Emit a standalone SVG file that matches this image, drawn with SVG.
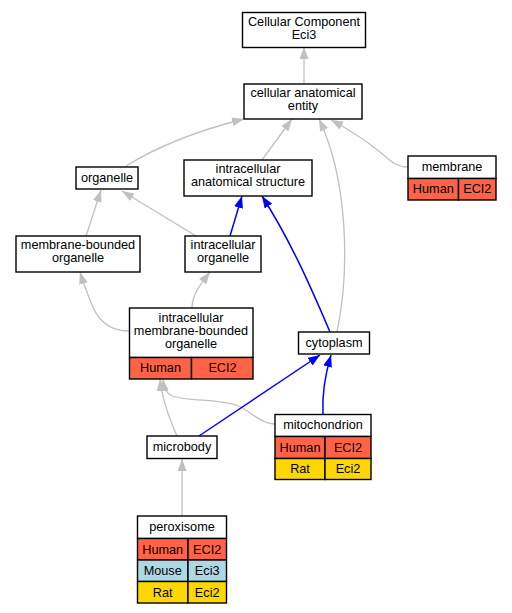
<svg xmlns="http://www.w3.org/2000/svg" width="512" height="613" viewBox="0 0 512 613">
<style>
text{font-family:"Liberation Sans",Arial,sans-serif;font-size:12.7px;fill:#000;text-anchor:middle}
.box{fill:#fff;stroke:#000;stroke-width:1.4}
.cell{stroke:#000;stroke-width:1.4}
.hu{fill:#FF6347}
.mo{fill:#ADD8E6}
.ra{fill:#FFD700}
.g{fill:none;stroke:#C0C0C0;stroke-width:1.3}
.b{fill:none;stroke:#0000FF;stroke-width:1.5}
</style>
<defs>
<marker id="ag" markerUnits="userSpaceOnUse" markerWidth="13" markerHeight="10" refX="12" refY="4.5" orient="auto"><path d="M0,0 L12,4.5 L0,9 z" fill="#C0C0C0"/></marker>
<marker id="ab" markerUnits="userSpaceOnUse" markerWidth="13" markerHeight="10" refX="12" refY="4.5" orient="auto"><path d="M0,0 L12,4.5 L0,9 z" fill="#0000FF"/></marker>
</defs>
<rect width="512" height="613" fill="#fff"/>
<g id="edges">
<path class="g" marker-end="url(#ag)" d="M304,84 L304,47"/>
<path class="g" marker-end="url(#ag)" d="M126,166 C160,145 200,130 244,119"/>
<path class="g" marker-end="url(#ag)" d="M262,160 L292,119"/>
<path class="g" marker-end="url(#ag)" d="M337,332 C350,270 348,180 319,119"/>
<path class="g" marker-end="url(#ag)" d="M408,167 C395,167 390,160 380,152 C365,140 350,130 331,120"/>
<path class="g" marker-end="url(#ag)" d="M86,236 L101,190"/>
<path class="g" marker-end="url(#ag)" d="M196,236 L122,191"/>
<path class="b" marker-end="url(#ab)" d="M230,236 L242,196"/>
<path class="b" marker-end="url(#ab)" d="M330,332 C310,285 290,240 262,196"/>
<path class="g" marker-end="url(#ag)" d="M129,331 C110,331 98,320 92,305 C88,295 84,285 80,272"/>
<path class="g" marker-end="url(#ag)" d="M192,308 C192,295 200,285 210,272"/>
<path class="g" marker-end="url(#ag)" d="M177,436 C170,420 162,400 160,379"/>
<path class="g" marker-end="url(#ag)" d="M275,424 C260,424 250,410 236,405 C215,398 190,402 172,396 C166,393 164,388 163,379"/>
<path class="b" marker-end="url(#ab)" d="M199,436 L320,355"/>
<path class="b" marker-end="url(#ab)" d="M323,414 C322,395 325,375 331,355"/>
<path class="g" marker-end="url(#ag)" d="M182,516 L182,459"/>
</g>
<g id="cellular_component">
<rect class="box" x="242.5" y="12.5" width="123" height="35"/>
<text x="304" y="26.3">Cellular Component</text>
<text x="304" y="39.3">Eci3</text>
</g>
<g id="cellular_anatomical_entity">
<rect class="box" x="244" y="84" width="118" height="35"/>
<text x="303" y="97">cellular anatomical</text>
<text x="303" y="110">entity</text>
</g>
<g id="organelle">
<rect class="box" x="76" y="167" width="62" height="22"/>
<text x="107" y="182">organelle</text>
</g>
<g id="intracellular_anatomical_structure">
<rect class="box" x="184" y="160" width="128" height="36"/>
<text x="248" y="173.3">intracellular</text>
<text x="248" y="186">anatomical structure</text>
</g>
<g id="membrane_bounded_organelle">
<rect class="box" x="16" y="236" width="124" height="36"/>
<text x="78" y="249.3">membrane-bounded</text>
<text x="78" y="262">organelle</text>
</g>
<g id="intracellular_organelle">
<rect class="box" x="185" y="236" width="76" height="36"/>
<text x="223" y="249.3">intracellular</text>
<text x="223" y="262">organelle</text>
</g>
<g id="intracellular_membrane_bounded_organelle">
<rect class="box" x="129.5" y="308" width="123.5" height="49.5"/>
<text x="191" y="322.3">intracellular</text>
<text x="191" y="335">membrane-bounded</text>
<text x="191" y="347.7">organelle</text>
<rect class="cell hu" x="129.5" y="357.5" width="62" height="21.5"/>
<rect class="cell hu" x="191.5" y="357.5" width="61.5" height="21.5"/>
<text x="160.5" y="372">Human</text>
<text x="222.5" y="372">ECI2</text>
</g>
<g id="cytoplasm">
<rect class="box" x="298.5" y="332" width="71" height="22"/>
<text x="334" y="347">cytoplasm</text>
</g>
<g id="membrane">
<rect class="box" x="408" y="156" width="88" height="22.5"/>
<text x="452" y="170.5">membrane</text>
<rect class="cell hu" x="408" y="178.5" width="50.5" height="21.5"/>
<rect class="cell hu" x="458.5" y="178.5" width="37.5" height="21.5"/>
<text x="433.3" y="193">Human</text>
<text x="477.3" y="193">ECI2</text>
</g>
<g id="microbody">
<rect class="box" x="147" y="436" width="70" height="22.5"/>
<text x="182" y="451">microbody</text>
</g>
<g id="mitochondrion">
<rect class="box" x="275" y="414.5" width="96" height="22"/>
<text x="323" y="429">mitochondrion</text>
<rect class="cell hu" x="275" y="436.5" width="50" height="22"/>
<rect class="cell hu" x="325" y="436.5" width="46" height="22"/>
<text x="300" y="451.5">Human</text>
<text x="348" y="451.5">ECI2</text>
<rect class="cell ra" x="275" y="458.5" width="50" height="21"/>
<rect class="cell ra" x="325" y="458.5" width="46" height="21"/>
<text x="300" y="473">Rat</text>
<text x="348" y="473">Eci2</text>
</g>
<g id="peroxisome">
<rect class="box" x="137.5" y="516" width="89" height="22.5"/>
<text x="182" y="531">peroxisome</text>
<rect class="cell hu" x="137.5" y="538.5" width="50.5" height="21.5"/>
<rect class="cell hu" x="188" y="538.5" width="38.5" height="21.5"/>
<text x="162.7" y="553.5">Human</text>
<text x="207.2" y="553.5">ECI2</text>
<rect class="cell mo" x="137.5" y="560" width="50.5" height="21.5"/>
<rect class="cell mo" x="188" y="560" width="38.5" height="21.5"/>
<text x="162.7" y="575">Mouse</text>
<text x="207.2" y="575">Eci3</text>
<rect class="cell ra" x="137.5" y="581.5" width="50.5" height="21.5"/>
<rect class="cell ra" x="188" y="581.5" width="38.5" height="21.5"/>
<text x="162.7" y="596.5">Rat</text>
<text x="207.2" y="596.5">Eci2</text>
</g>
</svg>
